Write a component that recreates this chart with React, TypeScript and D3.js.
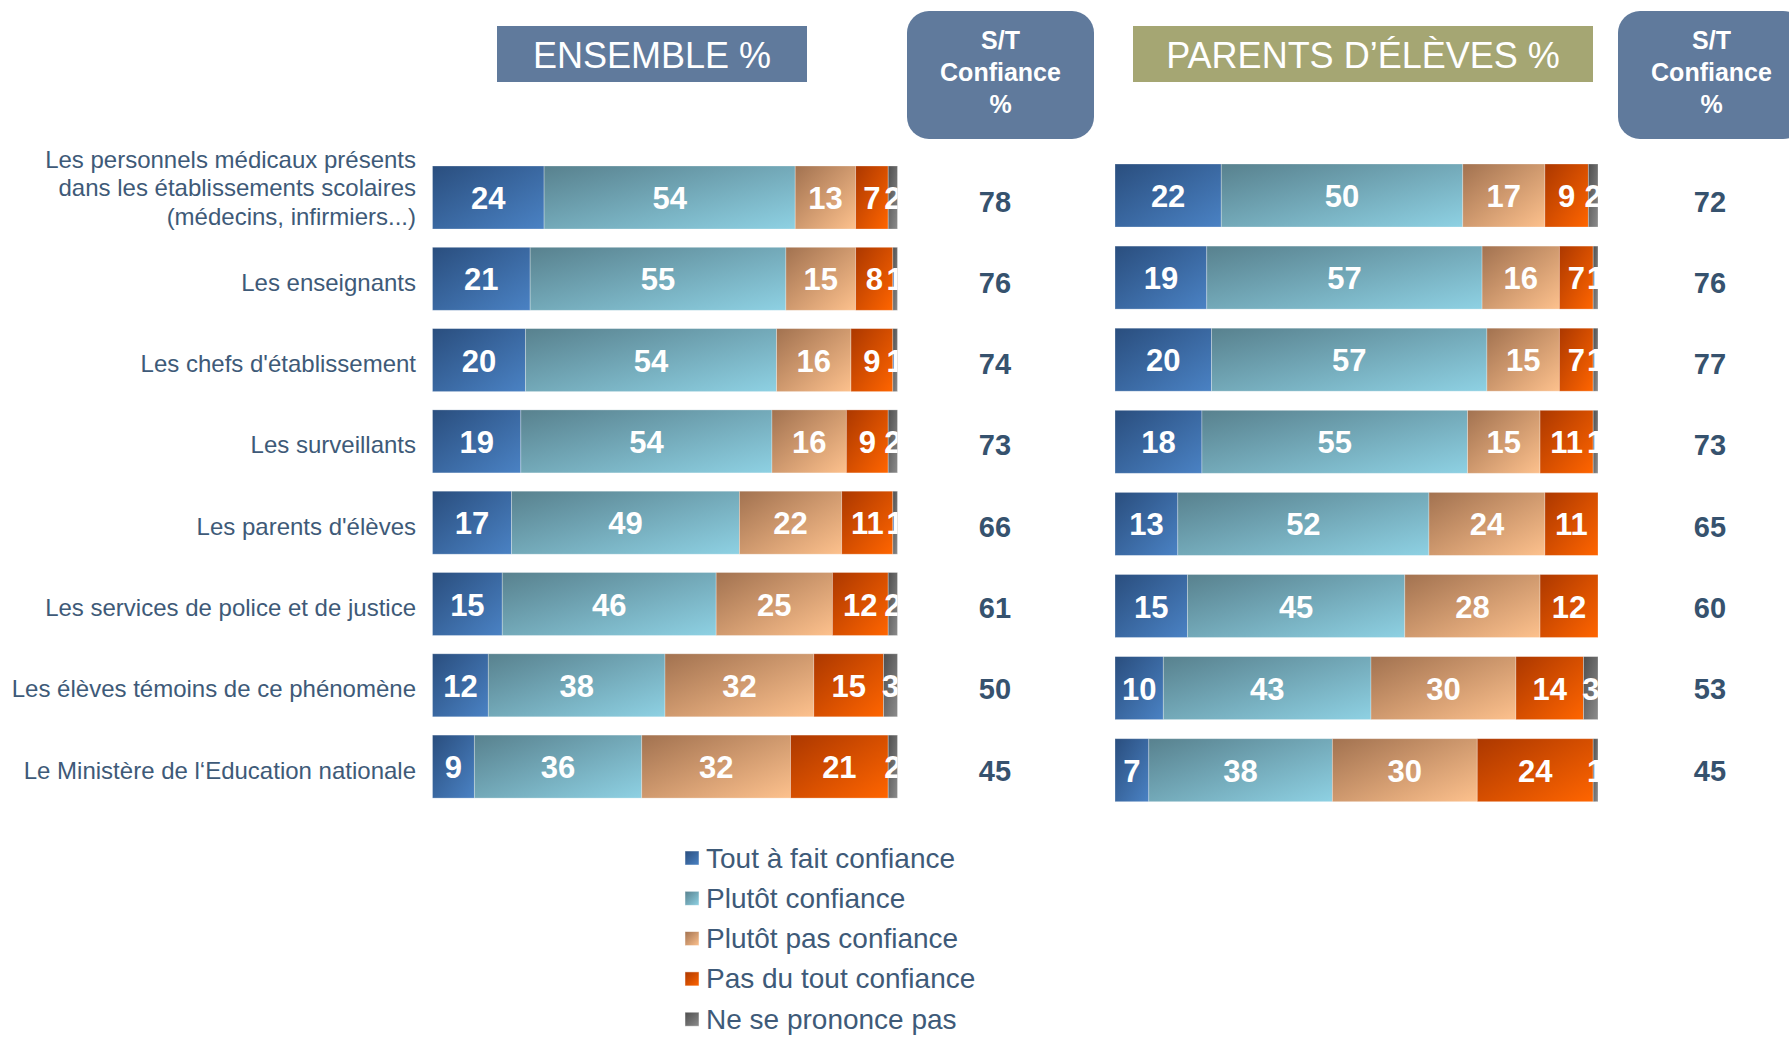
import React from "react";
import * as d3 from "d3";

const categories = [
  "Les personnels médicaux présents\ndans les établissements scolaires\n(médecins, infirmiers...)",
  "Les enseignants",
  "Les chefs d'établissement",
  "Les surveillants",
  "Les parents d'élèves",
  "Les services de police et de justice",
  "Les élèves témoins de ce phénomène",
  "Le Ministère de l‘Education nationale",
];

const seriesNames = [
  "Tout à fait confiance",
  "Plutôt confiance",
  "Plutôt pas confiance",
  "Pas du tout confiance",
  "Ne se prononce pas",
];
const seriesKeys = ["t", "p", "pp", "pdt", "nsp"];

// ENSEMBLE
const toutAFaitE = [24, 21, 20, 19, 17, 15, 12, 9];
const plutotE = [54, 55, 54, 54, 49, 46, 38, 36];
const plutotPasE = [13, 15, 16, 16, 22, 25, 32, 32];
const pasDuToutE = [7, 8, 9, 9, 11, 12, 15, 21];
const nspE = [2, 1, 1, 2, 1, 2, 3, 2];
const stE = [78, 76, 74, 73, 66, 61, 50, 45];

// PARENTS D'ÉLÈVES
const toutAFaitP = [22, 19, 20, 18, 13, 15, 10, 7];
const plutotP = [50, 57, 57, 55, 52, 45, 43, 38];
const plutotPasP = [17, 16, 15, 15, 24, 28, 30, 30];
const pasDuToutP = [9, 7, 7, 11, 11, 12, 14, 24];
const nspP = [2, 1, 1, 1, 0, 0, 3, 1];
const stP = [72, 76, 77, 73, 65, 60, 53, 45];

const gradStops: [string, string][] = [
  ["#2a4e7e", "#4a82c4"],
  ["#58818e", "#8ed1e3"],
  ["#a27250", "#fdc18d"],
  ["#ac3800", "#ff6500"],
  ["#4e4e4e", "#8c8c8c"],
];

const FONT = "'Liberation Sans', Arial, Helvetica, sans-serif";
const LABEL_COLOR = "#3e5a78";
const ST_COLOR = "#36526e";
const BOX_BLUE = "#607a9c";
const BOX_OLIVE = "#a5a673";

function build(a: number[][]) {
  return categories.map((c, i) => {
    const o: any = { cat: c };
    seriesKeys.forEach((k, j) => (o[k] = a[j][i]));
    return o;
  });
}

const dataE = build([toutAFaitE, plutotE, plutotPasE, pasDuToutE, nspE]);
const dataP = build([toutAFaitP, plutotP, plutotPasP, pasDuToutP, nspP]);

type Panel = {
  id: string;
  data: any[];
  st: number[];
  x0: number;
  x1: number;
  top: number;
  pitch: number;
  h: number;
  stX: number;
};

const panels: Panel[] = [
  { id: "E", data: dataE, st: stE, x0: 432.5, x1: 897.5, top: 166, pitch: 81.3, h: 63, stX: 995 },
  { id: "P", data: dataP, st: stP, x0: 1115, x1: 1598, top: 164, pitch: 82.1, h: 63, stX: 1710 },
];

function bandFor(pn: Panel) {
  return d3
    .scaleBand<string>()
    .domain(categories)
    .range([pn.top, pn.top + 7 * pn.pitch + pn.h])
    .paddingInner((pn.pitch - pn.h) / pn.pitch)
    .paddingOuter(0);
}

const yRows = bandFor(panels[0]);

function PanelBars({ pn }: { pn: Panel }) {
  const x = d3.scaleLinear().domain([0, 100]).range([pn.x0, pn.x1]);
  const y = bandFor(pn);
  const stacked = d3.stack<any>().keys(seriesKeys)(pn.data);
  const clipId = "clip" + pn.id;
  return (
    <g>
      <defs>
        <clipPath id={clipId}>
          <rect x={pn.x0} y={0} width={pn.x1 - pn.x0} height={1037} />
        </clipPath>
      </defs>
      {stacked.map((s, si) => (
        <g key={si}>
          {s.map((d, i) => {
            const w = x(d[1]) - x(d[0]);
            if (w <= 0) return null;
            return (
              <rect
                key={i}
                x={x(d[0])}
                y={y(categories[i])}
                width={w}
                height={y.bandwidth()}
                fill={`url(#g${si})`}
                stroke="rgba(255,255,255,0.35)"
                strokeWidth={0.8}
              />
            );
          })}
        </g>
      ))}
      <g clipPath={`url(#${clipId})`}>
        {stacked.map((s, si) =>
          s.map((d, i) => {
            const v = d[1] - d[0];
            if (v <= 0) return null;
            return (
              <text
                key={si + "-" + i}
                x={x((d[0] + d[1]) / 2)}
                y={(y(categories[i]) as number) + y.bandwidth() / 2 + 1}
                textAnchor="middle"
                dominantBaseline="central"
                fill="#ffffff"
                fontFamily={FONT}
                fontWeight="bold"
                fontSize={31}
              >
                {v}
              </text>
            );
          })
        )}
      </g>
      {pn.st.map((v, i) => (
        <text
          key={"st" + i}
          x={pn.stX}
          y={(yRows(categories[i]) as number) + yRows.bandwidth() / 2 + 4}
          textAnchor="middle"
          dominantBaseline="central"
          fill={ST_COLOR}
          fontFamily={FONT}
          fontWeight="bold"
          fontSize={29}
        >
          {v}
        </text>
      ))}
    </g>
  );
}

function STBox({ x, w }: { x: number; w: number }) {
  const cx = x + w / 2;
  return (
    <g>
      <rect x={x} y={11} width={w} height={128} rx={22} ry={22} fill={BOX_BLUE} />
      {["S/T", "Confiance", "%"].map((t, i) => (
        <text
          key={i}
          x={cx}
          y={40 + i * 32}
          textAnchor="middle"
          dominantBaseline="central"
          fill="#ffffff"
          fontFamily={FONT}
          fontWeight="bold"
          fontSize={25}
        >
          {t}
        </text>
      ))}
    </g>
  );
}

export default function App() {
  const yE = yRows;

  return (
    <svg
      width={1789}
      height={1037}
      style={{ position: "absolute", left: 0, top: 0, display: "block" }}
    >
      <defs>
        {gradStops.map((g, i) => (
          <linearGradient key={i} id={`g${i}`} x1="0" y1="0" x2="1" y2="1">
            <stop offset="0%" stopColor={g[0]} />
            <stop offset="100%" stopColor={g[1]} />
          </linearGradient>
        ))}
      </defs>
      <rect x={0} y={0} width={1789} height={1037} fill="#ffffff" />

      {/* Headers */}
      <rect x={497} y={26} width={310} height={56} fill={BOX_BLUE} />
      <text
        x={652}
        y={55}
        textAnchor="middle"
        dominantBaseline="central"
        fill="#ffffff"
        fontFamily={FONT}
        fontSize={36}
      >
        ENSEMBLE %
      </text>
      <STBox x={907} w={187} />
      <rect x={1133} y={26} width={460} height={56} fill={BOX_OLIVE} />
      <text
        x={1363}
        y={55}
        textAnchor="middle"
        dominantBaseline="central"
        fill="#ffffff"
        fontFamily={FONT}
        fontSize={36}
      >
        PARENTS D’ÉLÈVES %
      </text>
      <STBox x={1618} w={187} />

      {/* Category labels */}
      {categories.map((c, i) => {
        const lines = c.split("\n");
        const cy = (yE(c) as number) + yE.bandwidth() / 2;
        const startY = lines.length > 1 ? cy - 11.5 - ((lines.length - 1) * 28.5) / 2 + 1 : cy + 3;
        return (
          <text
            key={i}
            textAnchor="end"
            fill={LABEL_COLOR}
            fontFamily={FONT}
            fontSize={24}
            dominantBaseline="central"
          >
            {lines.map((l, k) => (
              <tspan key={k} x={416} y={startY + k * 28.5}>
                {l}
              </tspan>
            ))}
          </text>
        );
      })}

      {panels.map((pn) => (
        <PanelBars key={pn.id} pn={pn} />
      ))}

      {/* Legend */}
      {seriesNames.map((n, i) => (
        <g key={i} transform={`translate(685, ${858 + i * 40.3})`}>
          <rect
            x={0}
            y={-7}
            width={14}
            height={14}
            fill={`url(#g${i})`}
            stroke="rgba(255,255,255,0.6)"
            strokeWidth={0.8}
          />
          <text
            x={21}
            y={0}
            dominantBaseline="central"
            fill={LABEL_COLOR}
            fontFamily={FONT}
            fontSize={28}
          >
            {n}
          </text>
        </g>
      ))}
    </svg>
  );
}
